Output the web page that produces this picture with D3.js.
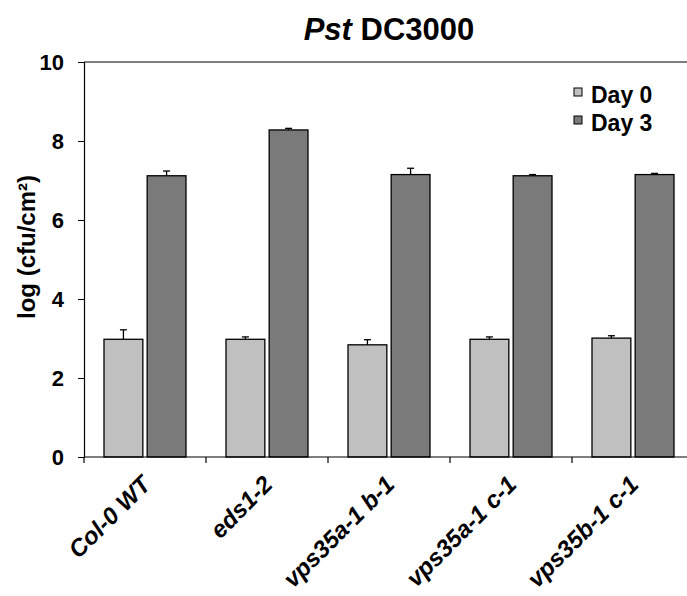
<!DOCTYPE html>
<html>
<head>
<meta charset="utf-8">
<script src="https://cdn.jsdelivr.net/npm/d3@7"></script>
<style>
  body { margin: 0; background: #fff; }
  svg { display: block; font-family: Arial, "Liberation Sans", sans-serif; }
</style>
</head>
<body>
<svg id="chart"></svg>
<script>
const categories = ["Col-0 WT", "eds1-2", "vps35a-1 b-1", "vps35a-1 c-1", "vps35b-1 c-1"];
const seriesNames = ["Day 0", "Day 3"];
const day0 = [2.98, 2.98, 2.84, 2.98, 3.01];
const day0Err = [0.24, 0.06, 0.13, 0.06, 0.06];
const day3 = [7.12, 8.28, 7.15, 7.12, 7.15];
const day3Err = [0.12, 0.04, 0.16, 0.03, 0.03];
const yTicks = [0, 2, 4, 6, 8, 10];

const width = 687;
const height = 596;
const margin = { top: 62, left: 84, bottom: 139 };
const plotRight = 694; // frame runs off the right edge in the original
const colors = { "Day 0": "#c0c0c0", "Day 3": "#7a7a7a" };

const rows = categories.map((c, i) => ({
  cat: c,
  vals: [
    { key: "Day 0", v: day0[i], e: day0Err[i] },
    { key: "Day 3", v: day3[i], e: day3Err[i] }
  ]
}));

const svg = d3.select("#chart").attr("width", width).attr("height", height);

const x = d3.scaleBand().domain(categories).range([margin.left, plotRight]);
const x1 = d3.scaleBand().domain(seriesNames).range([20, 102]).paddingInner(0.1);
const y = d3.scaleLinear().domain([0, 10]).range([height - margin.bottom, margin.top]);

// top frame line
svg.append("line")
  .attr("x1", margin.left).attr("x2", plotRight)
  .attr("y1", y(10)).attr("y2", y(10))
  .attr("stroke", "#000").attr("stroke-width", 1.2);

// bars
const group = svg.append("g").selectAll("g")
  .data(rows)
  .join("g")
  .attr("transform", d => `translate(${x(d.cat)},0)`);

group.selectAll("rect")
  .data(d => d.vals)
  .join("rect")
  .attr("x", d => x1(d.key))
  .attr("width", x1.bandwidth())
  .attr("y", d => y(d.v))
  .attr("height", d => y(0) - y(d.v))
  .attr("fill", d => colors[d.key])
  .attr("stroke", "#000")
  .attr("stroke-width", 1.3);

// error bars (upper only)
const err = group.selectAll("g.err")
  .data(d => d.vals)
  .join("g")
  .attr("class", "err")
  .attr("transform", d => `translate(${x1(d.key) + x1.bandwidth() / 2},0)`);

err.append("line")
  .attr("y1", d => y(d.v)).attr("y2", d => y(d.v + d.e))
  .attr("stroke", "#000").attr("stroke-width", 1.3);
err.append("line")
  .attr("x1", -3.5).attr("x2", 3.5)
  .attr("y1", d => y(d.v + d.e)).attr("y2", d => y(d.v + d.e))
  .attr("stroke", "#000").attr("stroke-width", 1.3);

// y axis
const yAxis = svg.append("g")
  .attr("transform", `translate(${margin.left},0)`)
  .call(d3.axisLeft(y).tickValues(yTicks).tickSize(6).tickPadding(14));
yAxis.select(".domain").attr("stroke-width", 1.2);
yAxis.selectAll("text")
  .attr("font-size", 22).attr("font-weight", "bold").attr("fill", "#000")
  .attr("font-family", "Arial, 'Liberation Sans', sans-serif");

// x axis
const xAxis = svg.append("g")
  .attr("transform", `translate(0,${y(0)})`);
xAxis.append("line")
  .attr("x1", margin.left).attr("x2", plotRight)
  .attr("stroke", "#000").attr("stroke-width", 1.2);
xAxis.selectAll("line.tk")
  .data(categories)
  .join("line")
  .attr("class", "tk")
  .attr("x1", d => x(d)).attr("x2", d => x(d))
  .attr("y1", 0).attr("y2", 6)
  .attr("stroke", "#000").attr("stroke-width", 1.2);

xAxis.selectAll("text.lbl")
  .data(categories)
  .join("text")
  .attr("class", "lbl")
  .attr("transform", d => `translate(${x(d) + x.bandwidth() / 2 - 5},17) rotate(-45)`)
  .attr("text-anchor", "end")
  .attr("dy", "0.71em")
  .attr("font-size", 24)
  .attr("font-weight", "bold")
  .attr("font-style", "italic")
  .text(d => d);

// y label
svg.append("text")
  .attr("transform", `translate(35,247) rotate(-90)`)
  .attr("text-anchor", "middle")
  .attr("font-size", 24)
  .attr("font-weight", "bold")
  .text("log (cfu/cm²)");

// title
const title = svg.append("text")
  .attr("x", (margin.left + plotRight) / 2)
  .attr("y", 40)
  .attr("text-anchor", "middle")
  .attr("font-size", 31)
  .attr("font-weight", "bold");
title.append("tspan").attr("font-style", "italic").text("Pst");
title.append("tspan").text(" DC3000");

// legend
const legend = svg.append("g").attr("transform", "translate(574,88)");
const li = legend.selectAll("g")
  .data(seriesNames)
  .join("g")
  .attr("transform", (d, i) => `translate(0,${i * 28})`);
li.append("rect")
  .attr("width", 8).attr("height", 8)
  .attr("fill", d => colors[d])
  .attr("stroke", "#000").attr("stroke-width", 1);
li.append("text")
  .attr("x", 17).attr("y", 15)
  .attr("font-size", 23)
  .attr("font-weight", "bold")
  .text(d => d);
</script>
</body>
</html>
